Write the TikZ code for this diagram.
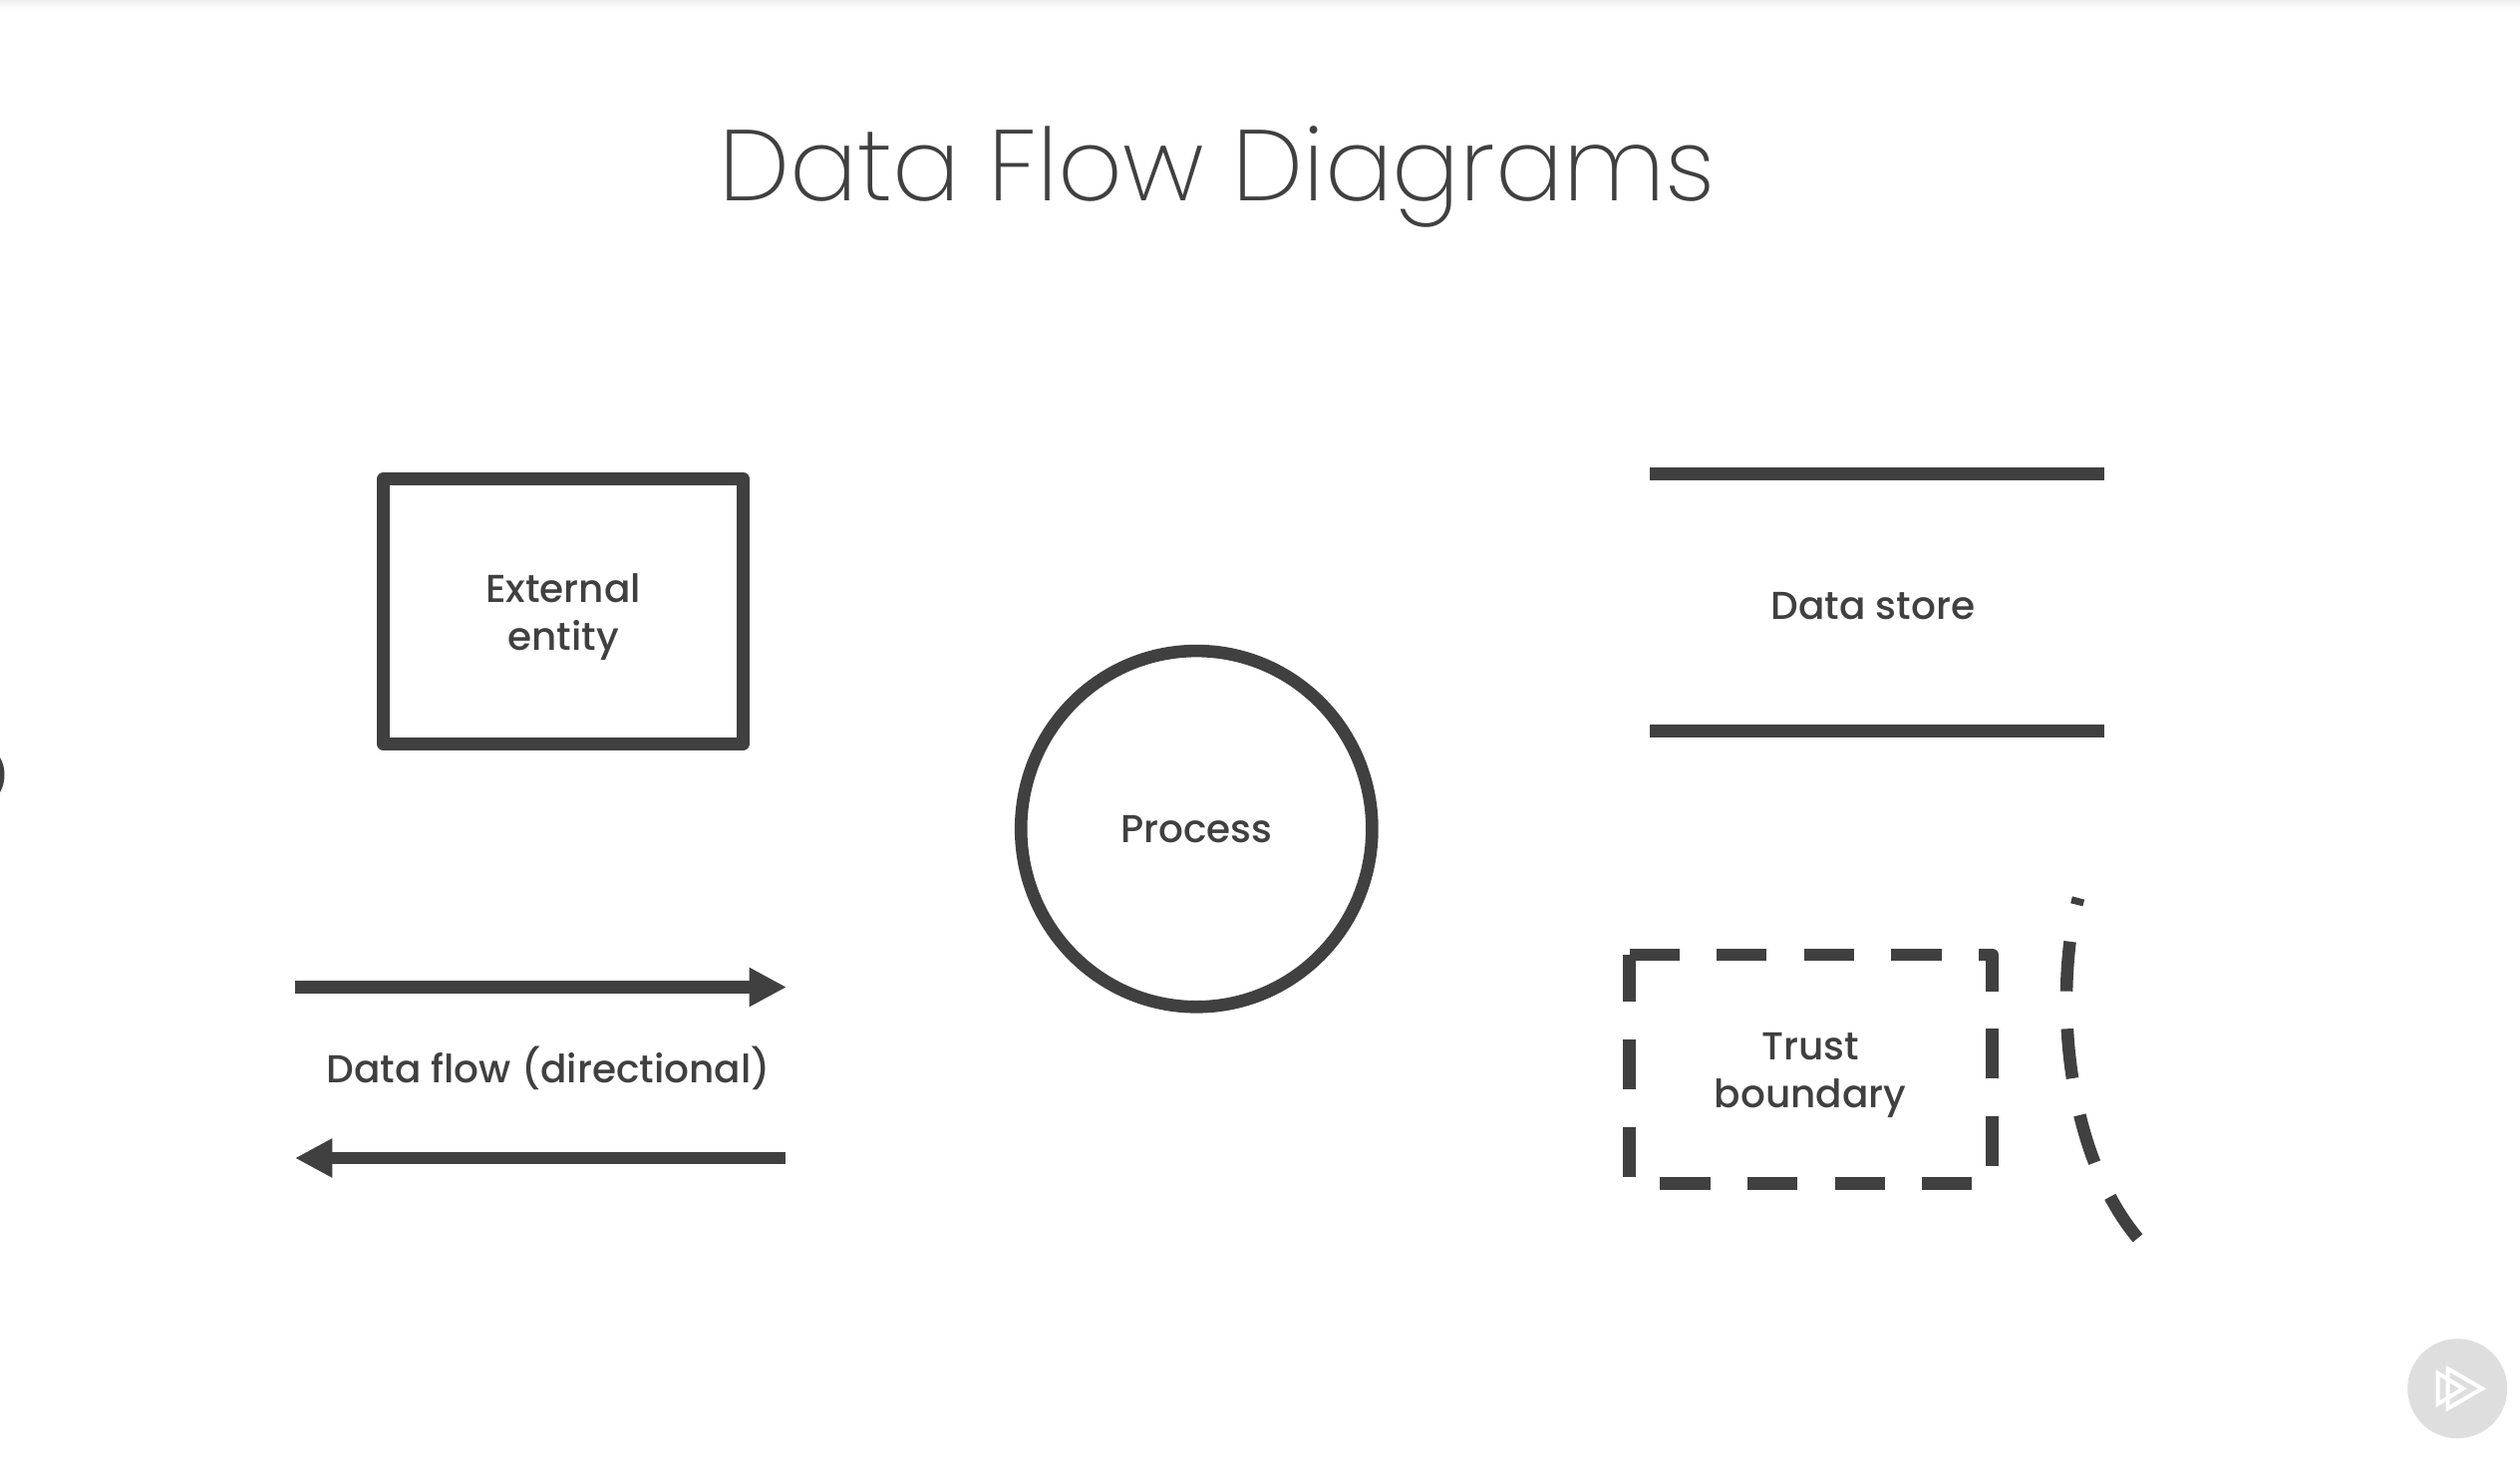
\documentclass[tikz,border=0pt]{standalone}
\usepackage{fontspec}
\usetikzlibrary{arrows.meta,shapes.geometric}
\newfontfamily\headfont{Poppins ExtraLight}
\newfontfamily\labelfont{Poppins Medium}
\definecolor{ink}{HTML}{404040}
\tikzset{
    shapeline/.style={draw=ink, line width=1.26mm, line join=round},
    flowline/.style={shapeline, -{Triangle[length=3.73mm,width=3.67mm]}},
    dashline/.style={shapeline, dash pattern=on 5mm off 3.76mm},
    lab/.style={text=ink, font=\labelfont\fontsize{11.1}{13.6}\selectfont, align=center, inner sep=0pt},
}
\begin{document}
\begin{tikzpicture}[x=0.01cm, y=-0.01cm]
        \useasboundingbox (0,0) rectangle (2528,1470);
        \shade[top color=black!6, bottom color=white] (0,0) rectangle (2528,9);
        \fill[ink] (0,760) .. controls (6,770) and (6,785) .. (0,795) -- cycle;
        \node[text=ink, font=\headfont\fontsize{28.7}{34}\selectfont, inner sep=0pt, anchor=base] (title) at (1221,202) {Data Flow Diagrams};
        % left column
        \node[shapeline, minimum width=3.61cm, minimum height=2.66cm, inner sep=0pt] (entity) at (565,613.5) {};
        \node[lab] (entitytext) at (565,619) {External\\entity};
        \coordinate (flowa) at (296,990.5);
        \coordinate (flowb) at (789,990.5);
        \coordinate (flowc) at (788,1162);
        \coordinate (flowd) at (296,1162);
        \draw[flowline] (flowa) -- (flowb);
        \draw[flowline] (flowc) -- (flowd);
        \node[lab, anchor=base] (flowtext) at (550,1086) {Data flow (directional)};
        % middle
        \node[shapeline, ellipse, minimum width=3.52cm, minimum height=3.57cm, inner sep=0pt] (proc) at (1200.3,831.7) {};
        \node[lab, anchor=base] (proctext) at (1200.3,845) {Process};
        % right column
        \coordinate (storea) at (1655,475.8);
        \coordinate (storeb) at (2111,475.8);
        \coordinate (storec) at (1655,733.5);
        \coordinate (stored) at (2111,733.5);
        \draw[shapeline] (storea) -- (storeb);
        \draw[shapeline] (storec) -- (stored);
        \node[lab, anchor=base] (storetext) at (1879,621.5) {Data store};
        \draw[dashline] (1634.5,958) -- (1998.6,958) -- (1998.6,1187.3) -- (1634.5,1187.3) -- (1634.5,958.4);
        \node[lab] (trusttext) at (1816,1079) {Trust\\boundary};
        \draw[dashline, dash phase=4.3mm] (2085,901) .. controls (2062,985) and (2067,1150) .. (2145,1243);
        % play badge
        \fill[black!13] (2465.2,1393.3) circle (50);
        \foreach \tipx/\backx/\half in {2490/2455.5/20, 2471/2445.5/15.5}{
            \draw[white, line width=0.4mm] (\backx,1393.3-\half) -- (\tipx,1393.3) -- (\backx,1393.3+\half) -- cycle;
        }
    \end{tikzpicture}
\end{document}
